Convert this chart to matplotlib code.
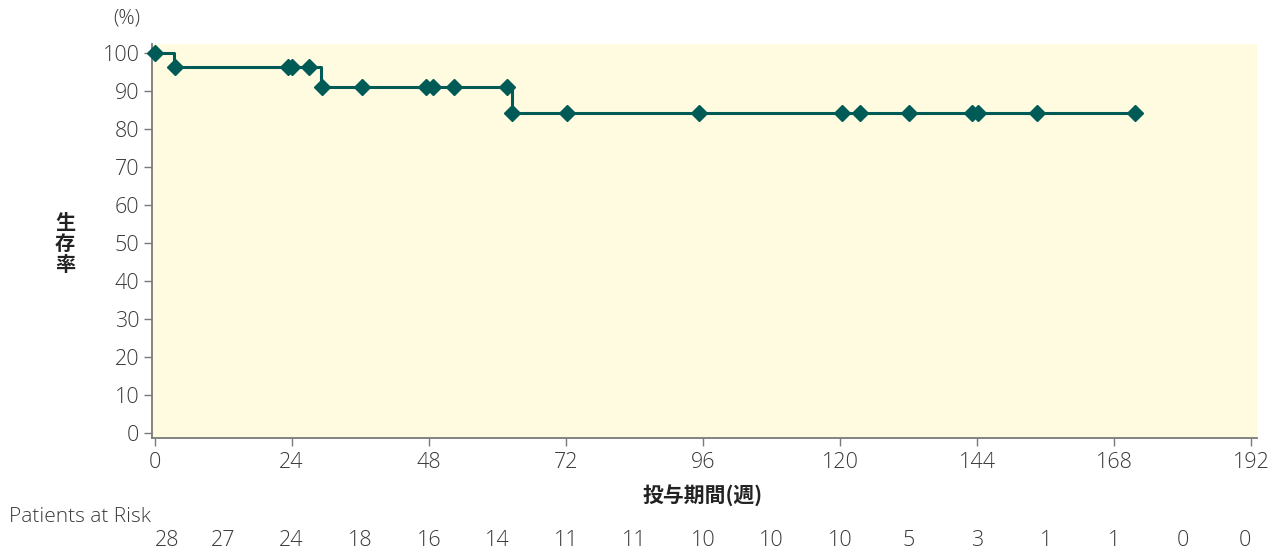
import matplotlib
matplotlib.use("Agg")
import matplotlib.pyplot as plt

plt.rcParams['font.family'] = ['Open Sans', 'Noto Sans CJK JP', 'DejaVu Sans']
plt.rcParams['font.weight'] = 'light'

# Kaplan-Meier step curve
step_times = [0, 3.4, 29.2, 62.5, 171.7]
step_surv = [100, 96.4, 91.1, 84.2, 84.2]

# marker points (censoring / events)
mark_times = [0, 3.5, 23.3, 24.0, 27.0, 29.3, 36.4, 47.5, 48.7, 52.4, 61.7,
              62.5, 72.2, 95.3, 120.4, 123.5, 132.1, 143.1, 144.2, 154.5, 171.7]
mark_surv = [100, 96.4, 96.4, 96.4, 96.4, 91.1, 91.1, 91.1, 91.1, 91.1, 91.1,
             84.2, 84.2, 84.2, 84.2, 84.2, 84.2, 84.2, 84.2, 84.2, 84.2]

x_ticks = [0, 24, 48, 72, 96, 120, 144, 168, 192]
y_ticks = [0, 10, 20, 30, 40, 50, 60, 70, 80, 90, 100]

risk_times = [0, 12, 24, 36, 48, 60, 72, 84, 96, 108, 120, 132, 144, 156, 168, 180, 192]
risk_counts = [28, 27, 24, 18, 16, 14, 11, 11, 10, 10, 10, 5, 3, 1, 1, 0, 0]

line_color = '#005a55'
bg_color = '#fefbe0'
text_color = '#3a3a3a'
spine_color = '#7a7a7a'
cjk = ['Noto Sans CJK JP', 'DejaVu Sans']

fig = plt.figure(figsize=(12.69, 5.5), dpi=100)
ax = fig.add_axes([152 / 1269, 1 - 438 / 550, (1257 - 152) / 1269, (438 - 44) / 550])
ax.set_facecolor(bg_color)

ax.step(step_times, step_surv, where='post', color=line_color, lw=2.2, zorder=3)
ax.plot(mark_times, mark_surv, ls='none', marker='D', ms=8.5, color=line_color,
        zorder=4, clip_on=False)

ax.set_xlim(-0.45, 193)
ax.set_ylim(-1.3, 102.4)
ax.set_xticks(x_ticks)
ax.set_yticks(y_ticks)
ax.tick_params(axis='both', direction='out', length=6, width=1, color=spine_color,
               labelsize=15.5, labelcolor=text_color)
ax.tick_params(axis='x', pad=4)
ax.tick_params(axis='y', pad=3)
for s in ['top', 'right']:
    ax.spines[s].set_visible(False)
for s in ['left', 'bottom']:
    ax.spines[s].set_color(spine_color)
    ax.spines[s].set_linewidth(1.3)

fig.text(127 / 1269, 1 - 18 / 550, '(%)', ha='center', va='center', fontsize=14.5,
         color=text_color)
fig.text(65 / 1269, 1 - 243 / 550, '生\n存\n率', ha='center', va='center', fontsize=14.5,
         fontweight='bold', color='#222222', linespacing=1.0, family=cjk)
fig.text(703 / 1269, 1 - 495 / 550, '投与期間(週)', ha='center', va='center', fontsize=15,
         fontweight='bold', color='#222222', family=cjk)

fig.text(9 / 1269, 1 - 517 / 550, 'Patients at Risk', ha='left', va='center', fontsize=15,
         color=text_color)
n = len(risk_times)
for i, (t, c) in enumerate(zip(risk_times, risk_counts)):
    ha = 'left' if i == 0 else ('right' if i == n - 1 else 'center')
    ax.annotate(str(c), xy=(t, 0), xycoords=('data', 'figure fraction'),
                xytext=(0, 1 - 540 / 550), textcoords=('offset points', 'figure fraction'),
                ha=ha, va='center', fontsize=15.5, color=text_color, annotation_clip=False)

fig.savefig('out.png', dpi=100)
